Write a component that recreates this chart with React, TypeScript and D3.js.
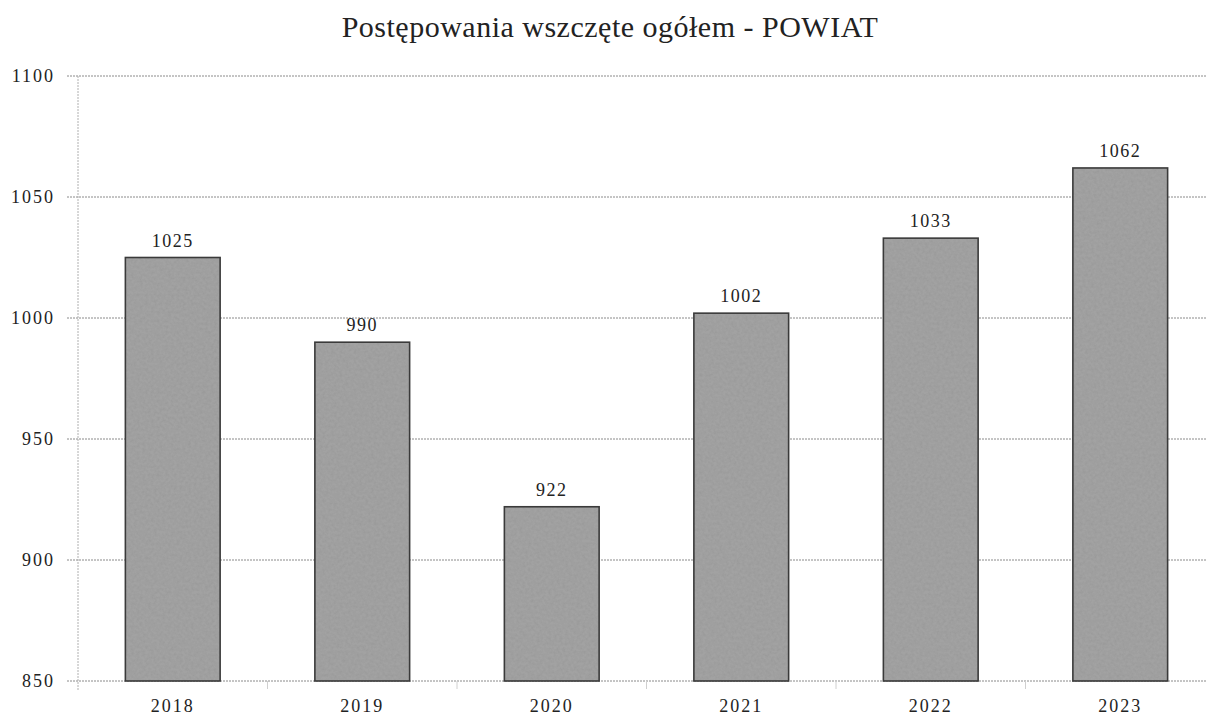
import React, { useEffect, useRef } from "react";
import * as d3 from "d3";

const years = ["2018", "2019", "2020", "2021", "2022", "2023"];
const values = [1025, 990, 922, 1002, 1033, 1062];
const yTicks = [850, 900, 950, 1000, 1050, 1100];
const title = "Postępowania wszczęte ogółem - POWIAT";

const App = () => {
  const svgRef = useRef<SVGSVGElement>(null);

  useEffect(() => {
    const width = 1207;
    const height = 722;
    const margin = { top: 76, right: -8, bottom: 41, left: 78 };
    const font = "'Liberation Serif', 'Times New Roman', serif";

    const svg = d3.select(svgRef.current).attr("width", width).attr("height", height);
    svg.selectAll("*").remove();

    // scanned-paper grain on the bars
    const defs = svg.append("defs");
    const filter = defs
      .append("filter")
      .attr("id", "grain")
      .attr("x", 0)
      .attr("y", 0)
      .attr("width", 1)
      .attr("height", 1);
    filter
      .append("feTurbulence")
      .attr("type", "fractalNoise")
      .attr("baseFrequency", 0.35)
      .attr("numOctaves", 3)
      .attr("seed", 7)
      .attr("result", "noise");
    filter
      .append("feColorMatrix")
      .attr("in", "noise")
      .attr("type", "matrix")
      .attr("values", "0 0 0 0 0.3  0 0 0 0 0.3  0 0 0 0 0.3  1.1 0 0 0 -0.35")
      .attr("result", "tint");
    filter.append("feComposite").attr("in", "tint").attr("in2", "SourceGraphic").attr("operator", "atop");

    const x = d3
      .scaleBand()
      .domain(years)
      .range([margin.left, width - margin.right])
      .paddingInner(0.5)
      .paddingOuter(0.25);

    const y = d3
      .scaleLinear()
      .domain([850, 1100])
      .range([height - margin.bottom, margin.top]);

    // title
    svg
      .append("text")
      .attr("x", 610)
      .attr("y", 37)
      .attr("text-anchor", "middle")
      .attr("font-family", font)
      .attr("font-size", 30)
      .attr("letter-spacing", 0.5)
      .attr("fill", "#222")
      .text(title);

    // gridlines
    svg
      .append("g")
      .selectAll("line")
      .data(yTicks)
      .enter()
      .append("line")
      .attr("x1", 67)
      .attr("x2", width)
      .attr("y1", (d) => y(d))
      .attr("y2", (d) => y(d))
      .attr("stroke", "#8a8a8a")
      .attr("stroke-width", 1)
      .attr("stroke-dasharray", "2,1");

    // y axis line
    svg
      .append("line")
      .attr("x1", margin.left)
      .attr("x2", margin.left)
      .attr("y1", y(1100))
      .attr("y2", y(850) + 10)
      .attr("stroke", "#b0b0b0")
      .attr("stroke-dasharray", "2,1");

    // y labels
    svg
      .append("g")
      .selectAll("text")
      .data(yTicks)
      .enter()
      .append("text")
      .attr("x", 55)
      .attr("y", (d) => y(d) + 6)
      .attr("text-anchor", "end")
      .attr("font-family", font)
      .attr("font-size", 18)
      .attr("letter-spacing", 2)
      .attr("fill", "#222")
      .text((d) => d);

    // category ticks
    svg
      .append("g")
      .selectAll("line")
      .data(years.slice(1))
      .enter()
      .append("line")
      .attr("x1", (d) => x(d)! - (x.step() * x.paddingInner()) / 2)
      .attr("x2", (d) => x(d)! - (x.step() * x.paddingInner()) / 2)
      .attr("y1", y(850))
      .attr("y2", y(850) + 8)
      .attr("stroke", "#d0d0d0");

    // bars
    svg
      .append("g")
      .selectAll("rect")
      .data(values)
      .enter()
      .append("rect")
      .attr("x", (d, i) => x(years[i])!)
      .attr("y", (d) => y(d))
      .attr("width", x.bandwidth())
      .attr("height", (d) => y(850) - y(d))
      .attr("fill", "#a2a2a2")
      .attr("filter", "url(#grain)");

    svg
      .append("g")
      .selectAll("rect")
      .data(values)
      .enter()
      .append("rect")
      .attr("x", (d, i) => x(years[i])!)
      .attr("y", (d) => y(d))
      .attr("width", x.bandwidth())
      .attr("height", (d) => y(850) - y(d))
      .attr("fill", "none")
      .attr("stroke", "#3a3a3a")
      .attr("stroke-width", 1.6);

    // value labels
    svg
      .append("g")
      .selectAll("text")
      .data(values)
      .enter()
      .append("text")
      .attr("x", (d, i) => x(years[i])! + x.bandwidth() / 2)
      .attr("y", (d) => y(d) - 11)
      .attr("text-anchor", "middle")
      .attr("font-family", font)
      .attr("font-size", 18)
      .attr("letter-spacing", 1.5)
      .attr("fill", "#222")
      .text((d) => d);

    // x labels
    svg
      .append("g")
      .selectAll("text")
      .data(years)
      .enter()
      .append("text")
      .attr("x", (d) => x(d)! + x.bandwidth() / 2)
      .attr("y", 712)
      .attr("text-anchor", "middle")
      .attr("font-family", font)
      .attr("font-size", 18)
      .attr("letter-spacing", 2)
      .attr("fill", "#222")
      .text((d) => d);
  }, []);

  return <svg ref={svgRef} style={{ position: "absolute", left: 0, top: 0 }}></svg>;
};

export default App;
